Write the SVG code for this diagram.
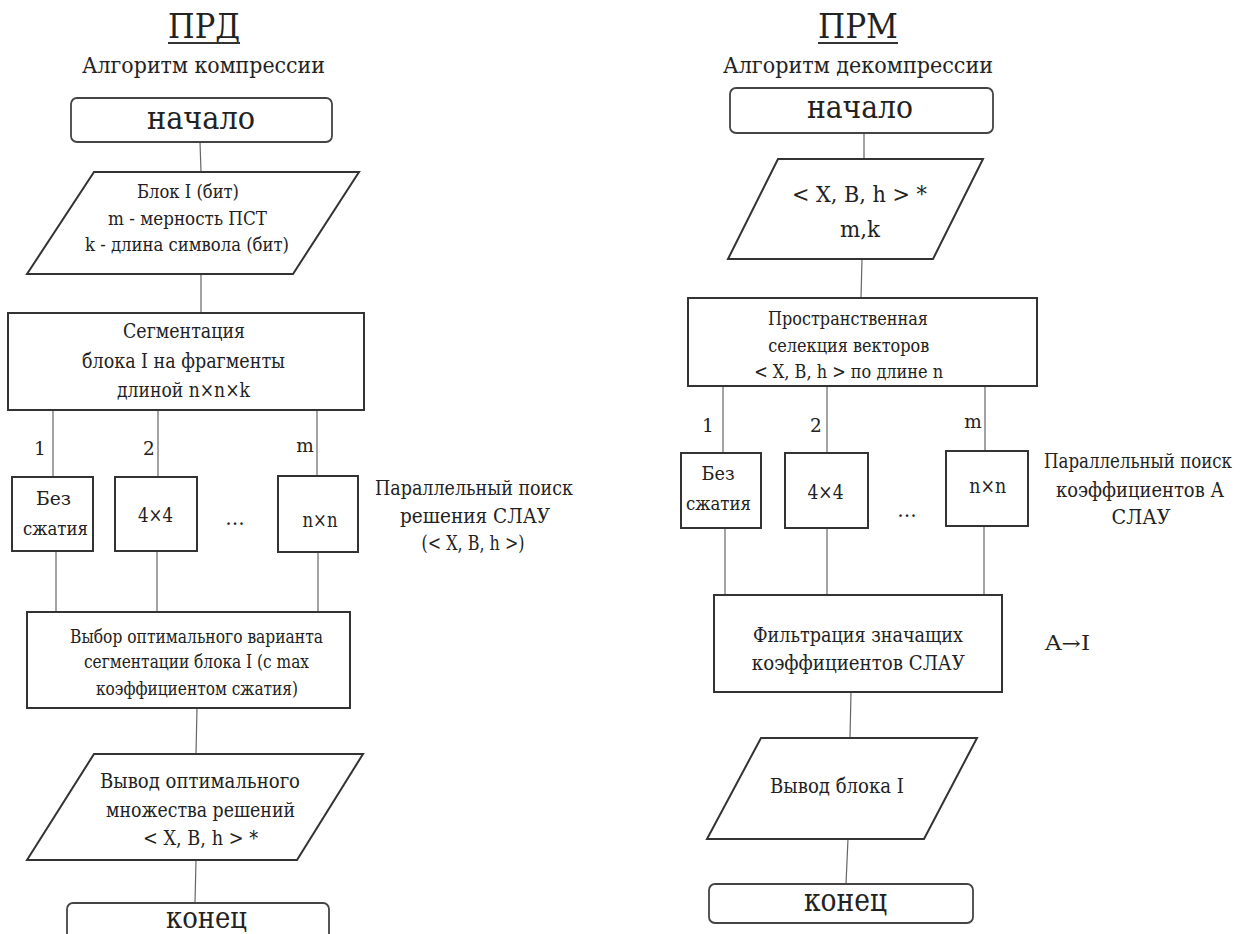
<svg xmlns="http://www.w3.org/2000/svg" width="1245" height="934" viewBox="0 0 1245 934">
<style>
text{font-family:"DejaVu Serif","Liberation Serif",serif;fill:#222;text-anchor:middle}
.box{fill:#fff;stroke:#333;stroke-width:2}
.term{fill:#fff;stroke:#444;stroke-width:1.8}
.conn line{stroke:#666;stroke-width:1.2}
.f20{font-size:18.5px}.f21{font-size:18.5px}.f22{font-size:19.5px}.f24{font-size:22px}
.head{font-size:33px}.sub{font-size:23px}.big{font-size:32px}
</style>
<rect width="1245" height="934" fill="#fff"/>

<g id="connectors" class="conn">
<line x1="200" y1="142" x2="201" y2="172"/>
<line x1="201" y1="274" x2="201" y2="313"/>
<line x1="53" y1="410" x2="53" y2="477"/>
<line x1="158" y1="410" x2="158" y2="477"/>
<line x1="317" y1="410" x2="317" y2="476"/>
<line x1="56" y1="551" x2="56" y2="612"/>
<line x1="157" y1="551" x2="157" y2="612"/>
<line x1="318" y1="552" x2="318" y2="612"/>
<line x1="197" y1="708" x2="196" y2="754"/>
<line x1="196" y1="860" x2="195" y2="903"/>
<line x1="864" y1="133" x2="864" y2="159"/>
<line x1="862" y1="259" x2="861" y2="298"/>
<line x1="723" y1="386" x2="723" y2="453"/>
<line x1="827" y1="386" x2="827" y2="453"/>
<line x1="985" y1="386" x2="985" y2="451"/>
<line x1="725" y1="528" x2="725" y2="595"/>
<line x1="827" y1="528" x2="827" y2="595"/>
<line x1="984" y1="526" x2="984" y2="594"/>
<line x1="851" y1="692" x2="850" y2="738"/>
<line x1="848" y1="839" x2="846" y2="884"/>
</g>

<g id="title-left">
<text x="204" y="38" class="head" textLength="72" lengthAdjust="spacingAndGlyphs">ПРД</text>
<line x1="168" y1="43" x2="240" y2="43" stroke="#333" stroke-width="2"/>
<text x="203.5" y="73" class="sub" textLength="243" lengthAdjust="spacingAndGlyphs">Алгоритм компрессии</text>
</g>
<g id="title-right">
<text x="858" y="38" class="head" textLength="80" lengthAdjust="spacingAndGlyphs">ПРМ</text>
<line x1="818" y1="43" x2="898" y2="43" stroke="#333" stroke-width="2"/>
<text x="858" y="73" class="sub" textLength="270" lengthAdjust="spacingAndGlyphs">Алгоритм декомпрессии</text>
</g>

<g id="L-start">
<rect x="71" y="98" width="261" height="44" rx="6" class="term"/>
<text x="201" y="129" class="big" textLength="108" lengthAdjust="spacingAndGlyphs">начало</text>
</g>
<g id="L-input">
<polygon points="94,172 359,172 293,274 27,274" class="box"/>
<text x="188" y="198" class="f20" textLength="102" lengthAdjust="spacingAndGlyphs">Блок I (бит)</text>
<text x="187.5" y="225" class="f20" textLength="159" lengthAdjust="spacingAndGlyphs">m - мерность ПСТ</text>
<text x="187" y="251" class="f20" textLength="204" lengthAdjust="spacingAndGlyphs">k - длина символа (бит)</text>
</g>
<g id="L-segment">
<rect x="8" y="313" width="356" height="97" class="box"/>
<text x="184" y="338" class="f22" textLength="122" lengthAdjust="spacingAndGlyphs">Сегментация</text>
<text x="183.5" y="368" class="f22" textLength="203" lengthAdjust="spacingAndGlyphs">блока I на фрагменты</text>
<text x="183.5" y="397" class="f22" textLength="133" lengthAdjust="spacingAndGlyphs">длиной n×n×k</text>
</g>
<g id="L-labels">
<text x="40" y="455" class="f21">1</text>
<text x="149" y="455" class="f21">2</text>
<text x="305" y="452" class="f21">m</text>
</g>
<g id="L-b1">
<rect x="12" y="477" width="81" height="74" class="box"/>
<text x="53.5" y="505" class="f21" textLength="35" lengthAdjust="spacingAndGlyphs">Без</text>
<text x="55.5" y="535" class="f21" textLength="65" lengthAdjust="spacingAndGlyphs">сжатия</text>
</g>
<g id="L-b2">
<rect x="115" y="477" width="82" height="74" class="box"/>
<text x="155.5" y="522" class="f22" textLength="35" lengthAdjust="spacingAndGlyphs">4×4</text>
</g>
<text x="235" y="525" class="f22">…</text>
<g id="L-b3">
<rect x="278" y="476" width="80" height="76" class="box"/>
<text x="320" y="527" class="f22" textLength="35" lengthAdjust="spacingAndGlyphs">n×n</text>
</g>
<g id="L-note">
<text x="474" y="495" class="f22" textLength="198" lengthAdjust="spacingAndGlyphs">Параллельный поиск</text>
<text x="475" y="523" class="f22" textLength="150" lengthAdjust="spacingAndGlyphs">решения СЛАУ</text>
<text x="473" y="550" class="f22" textLength="103" lengthAdjust="spacingAndGlyphs">(&lt; X, B, h &gt;)</text>
</g>
<g id="L-select">
<rect x="27" y="612" width="323" height="96" class="box"/>
<text x="196.5" y="643" class="f20" textLength="253" lengthAdjust="spacingAndGlyphs">Выбор оптимального варианта</text>
<text x="196.5" y="668" class="f20" textLength="225" lengthAdjust="spacingAndGlyphs">сегментации блока I (с max</text>
<text x="197" y="695" class="f20" textLength="202" lengthAdjust="spacingAndGlyphs">коэффициентом сжатия)</text>
</g>
<g id="L-output">
<polygon points="94,754 363,754 297,860 27,860" class="box"/>
<text x="200" y="788" class="f22" textLength="200" lengthAdjust="spacingAndGlyphs">Вывод оптимального</text>
<text x="200.5" y="817" class="f22" textLength="189" lengthAdjust="spacingAndGlyphs">множества решений</text>
<text x="200.5" y="845" class="f22" textLength="115" lengthAdjust="spacingAndGlyphs">&lt; X, B, h &gt; *</text>
</g>
<g id="L-end">
<rect x="67" y="903" width="262" height="50" rx="6" class="term"/>
<text x="206.5" y="928" style="font-size:30px" textLength="81" lengthAdjust="spacingAndGlyphs">конец</text>
</g>

<g id="R-start">
<rect x="730" y="88" width="263" height="45" rx="6" class="term"/>
<text x="860" y="118" class="big" textLength="106" lengthAdjust="spacingAndGlyphs">начало</text>
</g>
<g id="R-input">
<polygon points="778,159 983,159 933,259 728,259" class="box"/>
<text x="859.5" y="202" class="f24" textLength="135" lengthAdjust="spacingAndGlyphs">&lt; X, B, h &gt; *</text>
<text x="860" y="237" class="f24" textLength="40" lengthAdjust="spacingAndGlyphs">m,k</text>
</g>
<g id="R-select">
<rect x="688" y="298" width="349" height="88" class="box"/>
<text x="848" y="325" class="f20" textLength="160" lengthAdjust="spacingAndGlyphs">Пространственная</text>
<text x="848.8" y="352" class="f20" textLength="161" lengthAdjust="spacingAndGlyphs">селекция векторов</text>
<text x="848.7" y="378" class="f20" textLength="189" lengthAdjust="spacingAndGlyphs">&lt; X, B, h &gt; по длине n</text>
</g>
<g id="R-labels">
<text x="708" y="432" class="f21">1</text>
<text x="816" y="432" class="f21">2</text>
<text x="973" y="428" class="f21">m</text>
</g>
<g id="R-b1">
<rect x="681" y="453" width="80" height="75" class="box"/>
<text x="718" y="480" class="f21" textLength="33" lengthAdjust="spacingAndGlyphs">Без</text>
<text x="718.5" y="510" class="f21" textLength="65" lengthAdjust="spacingAndGlyphs">сжатия</text>
</g>
<g id="R-b2">
<rect x="785" y="453" width="83" height="75" class="box"/>
<text x="825.5" y="499" class="f22" textLength="36" lengthAdjust="spacingAndGlyphs">4×4</text>
</g>
<text x="907" y="517" class="f22">…</text>
<g id="R-b3">
<rect x="946" y="451" width="82" height="75" class="box"/>
<text x="987.7" y="493" class="f22" textLength="37" lengthAdjust="spacingAndGlyphs">n×n</text>
</g>
<g id="R-note">
<text x="1138" y="468" class="f22" textLength="188" lengthAdjust="spacingAndGlyphs">Параллельный поиск</text>
<text x="1140" y="497" class="f22" textLength="168" lengthAdjust="spacingAndGlyphs">коэффициентов А</text>
<text x="1141" y="524" class="f22" textLength="59" lengthAdjust="spacingAndGlyphs">СЛАУ</text>
</g>
<g id="R-filter">
<rect x="714" y="595" width="288" height="97" class="box"/>
<text x="858" y="642" class="f22" textLength="210" lengthAdjust="spacingAndGlyphs">Фильтрация значащих</text>
<text x="858.3" y="670" class="f22" textLength="213" lengthAdjust="spacingAndGlyphs">коэффициентов СЛАУ</text>
</g>
<text x="1067.5" y="650" class="f22" textLength="45" lengthAdjust="spacingAndGlyphs">A→I</text>
<g id="R-output">
<polygon points="761,738 977,738 924,839 707,839" class="box"/>
<text x="837" y="793" class="f22" textLength="134" lengthAdjust="spacingAndGlyphs">Вывод блока I</text>
</g>
<g id="R-end">
<rect x="709" y="884" width="264" height="39" rx="6" class="term"/>
<text x="845.5" y="911" class="big" textLength="83" lengthAdjust="spacingAndGlyphs">конец</text>
</g>
</svg>
